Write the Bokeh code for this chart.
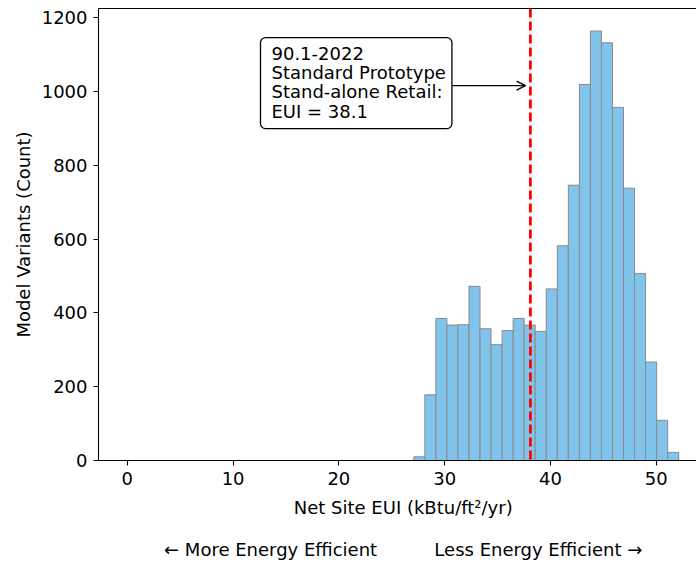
from bokeh.plotting import figure
from bokeh.models import (ColumnDataSource, Span, Label, Arrow, OpenHead,
                          FixedTicker, LinearAxis, Range1d)
from bokeh.embed import file_html
from bokeh.resources import INLINE
import numpy as np

# ---- data ----
counts = [10, 178, 385, 367, 368, 472, 357, 314, 352, 385, 367, 350,
          465, 582, 746, 1019, 1164, 1132, 957, 738, 507, 267, 109, 22]
bin_start = 27.08
bin_end = 52.12
baseline_eui = 38.1
x_ticks = [0, 10, 20, 30, 40, 50]
y_ticks = [0, 200, 400, 600, 800, 1000, 1200]
annot_text = "90.1-2022\nStandard Prototype\nStand-alone Retail:\nEUI = 38.1"
x_label = "Net Site EUI (kBtu/ft\u00b2/yr)"
y_label = "Model Variants (Count)"
left_note = "\u2190 More Energy Efficient"
right_note = "Less Energy Efficient \u2192"

edges = np.linspace(bin_start, bin_end, len(counts) + 1)
src = ColumnDataSource(dict(left=edges[:-1], right=edges[1:],
                            top=counts, bottom=[0] * len(counts)))

FONT = "DejaVu Sans"
FS = "18px"
NB = "\u00a0"

p = figure(width=696, height=563, output_backend="svg", toolbar_location=None,
           x_range=Range1d(-2.72, 53.8), y_range=Range1d(0, 1225),
           min_border_left=98, min_border_right=0, min_border_top=8,
           min_border_bottom=103)
p.outline_line_color = None
p.xgrid.visible = False
p.ygrid.visible = False
p.background_fill_color = "white"
p.border_fill_color = "white"

p.quad(left="left", right="right", top="top", bottom="bottom", source=src,
       fill_color="#80C4EC", line_color="#8a8a8a", line_width=1)

# axes styling
for ax in (p.xaxis[0], p.yaxis[0]):
    ax.major_label_text_font = FONT
    ax.major_label_text_font_size = FS
    ax.major_label_text_color = "black"
    ax.axis_line_color = "black"
    ax.axis_line_width = 1.1
    ax.major_tick_line_color = "black"
    ax.major_tick_line_width = 1.1
    ax.major_tick_out = 5
    ax.major_tick_in = 0
    ax.minor_tick_line_color = None
    ax.axis_label_text_font = FONT
    ax.axis_label_text_font_size = FS
    ax.axis_label_text_font_style = "normal"
    ax.axis_label_text_color = "black"
p.xaxis.ticker = FixedTicker(ticks=x_ticks)
p.yaxis.ticker = FixedTicker(ticks=y_ticks)
p.xaxis.major_label_standoff = 6
p.yaxis.major_label_standoff = 6
p.yaxis.axis_label = y_label
p.yaxis.axis_label_standoff = 5

# x-axis label plus the efficiency notes underneath (one multi-line label)
notes = NB * 2 + left_note + NB * 10 + right_note
p.xaxis.axis_label = NB * 2 + x_label + "\n" + NB + "\n" + notes
p.xaxis.axis_label_standoff = 9
p.xaxis.axis_label_text_line_height = 1.02

# top spine
top_ax = LinearAxis(ticker=FixedTicker(ticks=[]), major_tick_line_color=None,
                    minor_tick_line_color=None, axis_line_color="black",
                    axis_line_width=1.1)
p.add_layout(top_ax, "above")

# baseline line
p.add_layout(Span(location=baseline_eui, dimension="height", line_color="red",
                  line_width=2.8, line_dash="9 4"))

# annotation box
p.add_layout(Label(x=12.59, y=1146, text=annot_text, anchor="top_left",
                   text_font=FONT, text_font_size=FS, text_color="black",
                   text_line_height=0.92,
                   background_fill_color="white", border_line_color="black",
                   border_line_width=1.3, border_radius=5,
                   padding=dict(left=11, right=6, top=5, bottom=7)))
p.add_layout(Arrow(x_start=30.74, y_start=1016, x_end=37.64, y_end=1016,
                   line_color="black", line_width=1.4,
                   end=OpenHead(size=9, line_width=1.4, line_color="black")))

open("out.html", "w").write(file_html(p, INLINE))
